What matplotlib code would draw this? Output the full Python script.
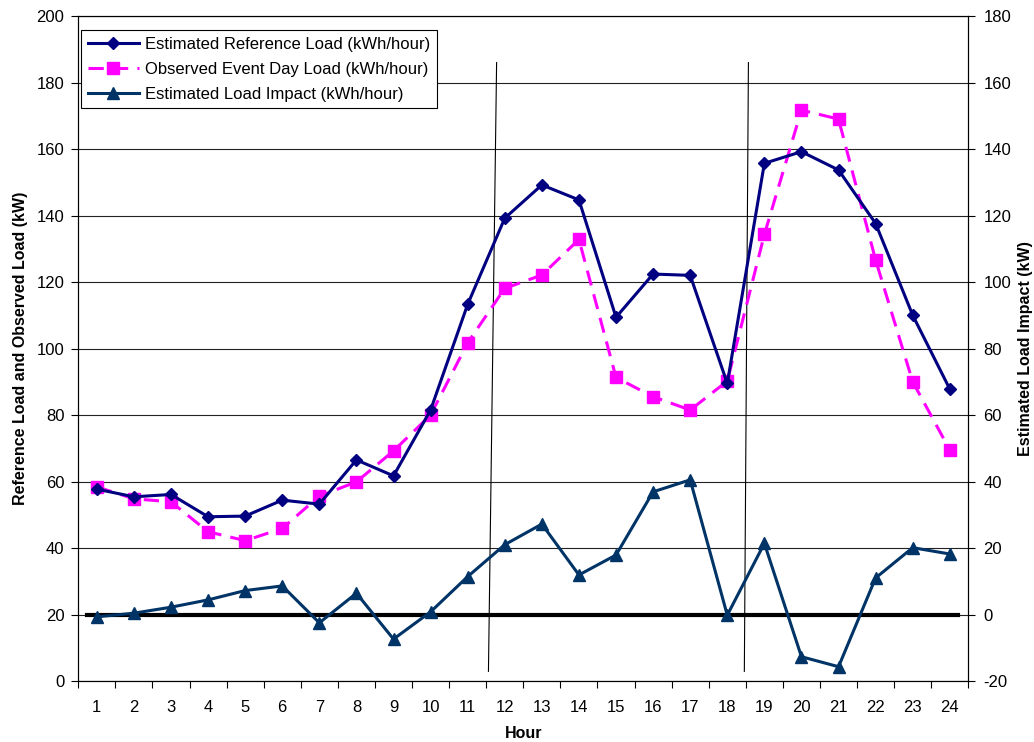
import matplotlib.pyplot as plt
from matplotlib.ticker import FixedLocator, NullFormatter
import numpy as np

plt.rcParams['font.family'] = ['Liberation Sans', 'DejaVu Sans']
plt.rcParams['axes.unicode_minus'] = False

hours = list(range(1, 25))

# estimated reference load (left axis, kW)
reference_load = [57.7, 55.4, 56.1, 49.4, 49.6, 54.4, 53.2, 66.5, 61.7, 81.5,
                  113.3, 139.2, 149.2, 144.7, 109.4, 122.4, 122.0, 89.5,
                  155.7, 159.2, 153.7, 137.6, 110.0, 87.8]

# observed event day load (left axis, kW)
observed_load = [58.4, 54.8, 53.9, 44.9, 42.2, 45.9, 55.6, 59.9, 69.2, 80.0,
                 101.7, 118.1, 122.1, 132.8, 91.3, 85.5, 81.5, 90.2,
                 134.3, 171.7, 169.0, 126.6, 90.0, 69.5]

# estimated load impact (right axis, kW)
load_impact = [-0.7, 0.4, 2.2, 4.4, 7.2, 8.6, -2.5, 6.4, -7.4, 0.8,
               11.4, 21.0, 27.2, 11.9, 17.9, 36.9, 40.5, -0.2,
               21.4, -12.7, -15.7, 11.0, 20.1, 18.2]

# hand drawn event window markers (hour position at top / bottom, left axis kW)
event_x_top = [11.78, 18.57]
event_x_bottom = [11.56, 18.46]
event_y_top = 186
event_y_bottom = 2.9

# zero line on the impact axis
zero_line_x = [0.74, 24.23]

fig = plt.figure(figsize=(10.34, 7.42), dpi=100)
ax1 = fig.add_axes([0.0757, 0.0822, 0.8608, 0.8962])
ax2 = ax1.twinx()

ax1.set_xlim(0.5, 24.5)
ax1.set_ylim(0, 200)
ax2.set_ylim(-20, 180)

ax1.set_yticks(np.arange(0, 201, 20))
ax2.set_yticks(np.arange(-20, 181, 20))
ax1.yaxis.grid(True, color='#222222', linewidth=0.8)
ax1.set_axisbelow(True)

# category axis: ticks between categories, labels centred
ax1.xaxis.set_major_locator(FixedLocator(np.arange(0.5, 25, 1)))
ax1.xaxis.set_major_formatter(NullFormatter())
ax1.xaxis.set_minor_locator(FixedLocator(hours))
ax1.set_xticklabels([str(h) for h in hours], minor=True)
ax1.tick_params(axis='x', which='major', direction='out', length=5, width=0.8)
ax1.tick_params(axis='x', which='minor', length=0, pad=13.5, labelsize=12)
ax1.tick_params(axis='y', direction='out', length=5, width=0.8, labelsize=12, pad=5)
ax2.tick_params(axis='y', direction='out', length=5, width=0.8, labelsize=12, pad=6)

for ax in (ax1, ax2):
    for s in ax.spines.values():
        s.set_color('black')
        s.set_linewidth(0.8)

for xt, xb in zip(event_x_top, event_x_bottom):
    ax1.plot([xt, xb], [event_y_top, event_y_bottom], color='black', linewidth=0.8, zorder=2)

l1, = ax1.plot(hours, reference_load, color='#000080', linewidth=2.2, marker='D',
               markersize=6.5, label='Estimated Reference Load (kWh/hour)', zorder=4)
l2, = ax1.plot(hours, observed_load, color='#FF00FF', linewidth=2.2, linestyle=(0, (5, 3)),
               marker='s', markersize=8, label='Observed Event Day Load (kWh/hour)', zorder=3)

ax2.plot(zero_line_x, [0, 0], color='black', linewidth=3, zorder=2)
l3, = ax2.plot(hours, load_impact, color='#003366', linewidth=2.2, marker='^',
               markersize=8, label='Estimated Load Impact (kWh/hour)', zorder=3)

ax1.set_xlabel('Hour', fontsize=11.5, fontweight='bold', labelpad=8)
ax1.set_ylabel('Reference Load and Observed Load (kW)', fontsize=11.5, fontweight='bold', labelpad=6)
ax2.set_ylabel('Estimated Load Impact (kW)', fontsize=11.5, fontweight='bold', labelpad=5)

leg = ax2.legend(handles=[l1, l2, l3], loc='upper left', bbox_to_anchor=(0.003, 0.979),
                 borderaxespad=0, fontsize=12, frameon=True, fancybox=False, framealpha=1,
                 edgecolor='black', handlelength=3.1, handletextpad=0.35,
                 borderpad=0.4, labelspacing=0.6)
leg.get_frame().set_linewidth(0.8)

fig.savefig('out.png', dpi=100)
